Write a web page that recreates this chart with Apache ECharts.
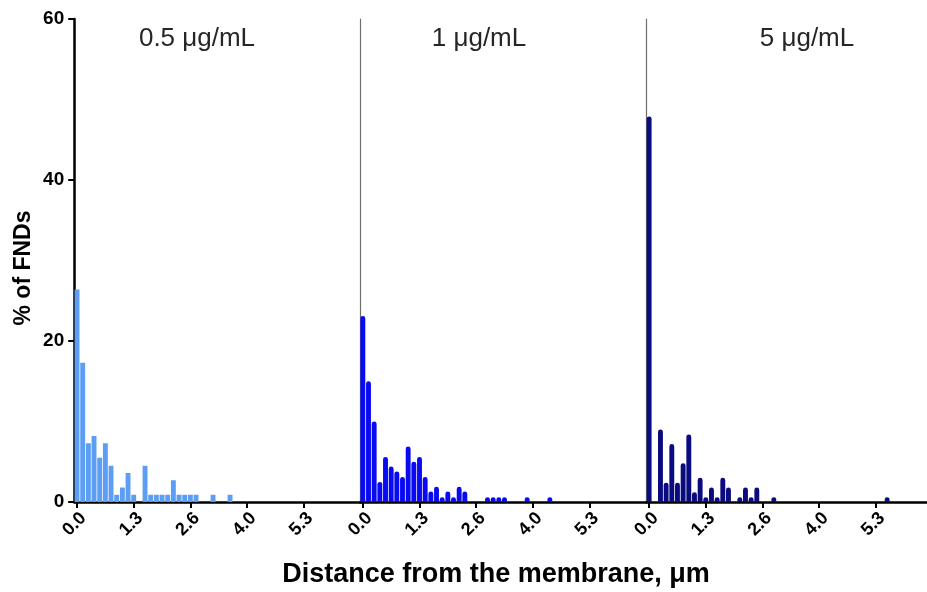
<!DOCTYPE html>
<html>
<head>
<meta charset="utf-8">
<script src="https://cdn.jsdelivr.net/npm/echarts@6/dist/echarts.min.js"></script>
<style>html,body{margin:0;padding:0;background:#fff}#c{width:927px;height:592px}</style>
</head>
<body>
<div id="c"></div>
<script>
// Histogram bins: 50 bins per panel (bin width ~0.133 µm); value = % of FNDs
const panelTitles = ['0.5 μg/mL', '1 μg/mL', '5 μg/mL'];
const tickBins = [0, 10, 20, 30, 40];
const tickLabels = ['0.0', '1.3', '2.6', '4.0', '5.3'];
const pct05 = [26.4, 17.3, 7.3, 8.2, 5.5, 7.3, 4.5, 0.9, 1.8, 3.6, 0.9, 0, 4.5, 0.9, 0.9, 0.9, 0.9, 2.7, 0.9, 0.9, 0.9, 0.9, 0, 0, 0.9, 0, 0, 0.9];
const pct1 = [23.1, 15.0, 10.0, 2.5, 5.6, 4.4, 3.8, 3.1, 6.9, 5.0, 5.6, 3.1, 1.3, 1.9, 0.6, 1.3, 0.6, 1.9, 1.3, 0, 0, 0, 0.6, 0.6, 0.6, 0.6, 0, 0, 0, 0.6, 0, 0, 0, 0.6];
const pct5 = [47.9, 0, 9.0, 2.4, 7.2, 2.4, 4.8, 8.4, 1.2, 3.0, 0.6, 1.8, 0.6, 3.0, 1.8, 0, 0.6, 1.8, 0.6, 1.8, 0, 0, 0.6, 0, 0, 0, 0, 0, 0, 0, 0, 0, 0, 0, 0, 0, 0, 0, 0, 0, 0, 0, 0.6];
const panelData = [pct05, pct1, pct5];
const colors = ['#5b9ef4', '#0a0af2', '#0b0b80'];

(function () {
  const FONT = '"Liberation Sans", Arial, sans-serif';
  const slot = 5.667;
  const lefts = [74.2, 360.0, 646.3];
  const maxes = [50, 50, 49];
  const gTop = 19, gHeight = 483;

  const grids = [], xAxes = [], yAxes = [], series = [];
  for (let p = 0; p < 3; p++) {
    grids.push({ left: lefts[p], top: gTop, width: (maxes[p] + 0.5) * slot, height: gHeight, containLabel: false });
    xAxes.push({
      type: 'value', gridIndex: p, min: -0.5, max: maxes[p],
      splitLine: { show: false },
      axisLine: { show: true, onZero: false, lineStyle: { color: '#000', width: 2.5 } },
      axisTick: { show: true, customValues: tickBins, length: 6, inside: false, lineStyle: { color: '#000', width: 2 } },
      axisLabel: {
        show: true, customValues: tickBins, rotate: 45, margin: 7,
        verticalAlign: 'top',
        color: '#000', fontWeight: 'bold', fontSize: 18, fontFamily: FONT,
        formatter: v => { const i = tickBins.indexOf(Math.round(v)); return i >= 0 ? tickLabels[i] : ''; }
      }
    });
    yAxes.push(p === 0 ? {
      type: 'value', gridIndex: p, min: 0, max: 60, interval: 20,
      splitLine: { show: false },
      axisLine: { show: true, onZero: false, lineStyle: { color: '#000', width: 2.5 } },
      axisTick: { show: true, length: 6, inside: false, lineStyle: { color: '#000', width: 2 } },
      axisLabel: { color: '#000', fontWeight: 'bold', fontSize: 19, fontFamily: FONT, margin: 10 }
    } : {
      type: 'value', gridIndex: p, min: 0, max: 60, interval: 20,
      splitLine: { show: false },
      axisLine: { show: true, onZero: false, lineStyle: { color: '#6e6e6e', width: 1.2 } },
      axisTick: { show: false }, axisLabel: { show: false }
    });
    const d = panelData[p].map((v, i) => [i, v]).filter(a => a[1] > 0);
    series.push({
      type: 'bar', xAxisIndex: p, yAxisIndex: p, data: d,
      barWidth: 4.9,
      itemStyle: { color: colors[p], borderRadius: p === 0 ? 0 : [2.5, 2.5, 0, 0] },
      silent: true, animation: false
    });
  }

  const graphics = panelTitles.map((t, p) => ({
    type: 'text', x: [197, 479, 807][p], y: 39,
    style: { text: t, font: '26px ' + FONT, fill: '#262626', textAlign: 'center', textVerticalAlign: 'middle' }
  }));
  graphics.push({
    type: 'text', x: 496, y: 575,
    style: { text: 'Distance from the membrane, μm', font: 'bold 27px ' + FONT, fill: '#000', textAlign: 'center', textVerticalAlign: 'middle' }
  });
  graphics.push({
    type: 'text', x: 24, y: 268, rotation: Math.PI / 2,
    style: { text: '% of FNDs', font: 'bold 23px ' + FONT, fill: '#000', textAlign: 'center', textVerticalAlign: 'middle' }
  });

  const chart = echarts.init(document.getElementById('c'), null, { renderer: 'canvas' });
  chart.setOption({
    animation: false,
    backgroundColor: '#fff',
    grid: grids, xAxis: xAxes, yAxis: yAxes, series: series,
    graphic: graphics
  });
})();
</script>
</body>
</html>
